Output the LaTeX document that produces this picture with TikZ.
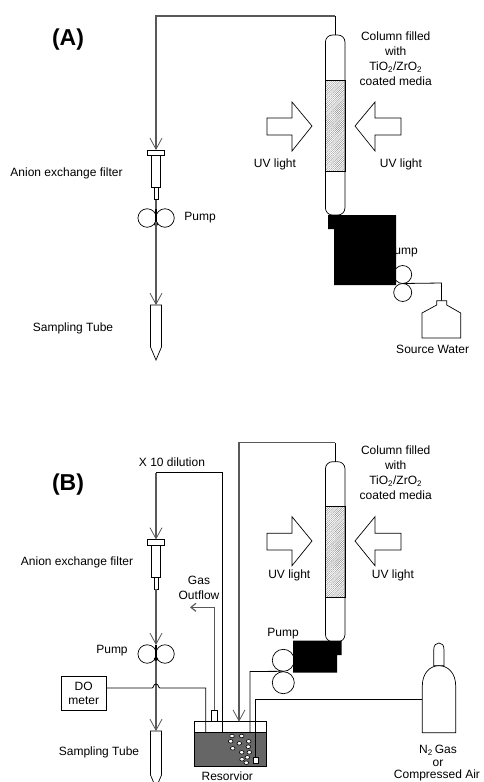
\documentclass[tikz,border=0pt]{standalone}
\usepackage{fontspec}
\setmainfont{Liberation Sans}
\usetikzlibrary{positioning,arrows.meta,patterns.meta}

\begin{document}
\begin{tikzpicture}[
  x=1pt, y=-1pt,
  label/.style={align=center, inner sep=0pt, font=\fontsize{12}{15}\selectfont},
  panel/.style={inner sep=0pt, font=\fontsize{23}{26}\selectfont\bfseries},
  part/.style={draw, fill=white, inner sep=0pt, outer sep=0pt, line width=0.7pt},
  column/.style={part, rounded corners=7pt, minimum width=19.5pt},
  media/.style={part, minimum width=19.5pt, fill=none,
    pattern={Lines[angle=45, distance=1.5pt, line width=0.3pt]}, pattern color=black!55},
  roller/.style={part, fill=none, circle},
  dot/.style={circle, fill=black, inner sep=0pt, outer sep=0pt, minimum size=4pt},
  vessel/.style={draw, line width=0.7pt, fill=white},
  uvarrow/.style={draw, line width=0.7pt, fill=white, line join=miter},
  pipe/.style={draw=black!65, line width=1.2pt},
  wire/.style={draw=black, line width=0.8pt},
  arr/.style={-{Straight Barb[length=11pt, width=12pt, line width=0.8pt]}, draw=black!65, line width=1.2pt},
  bubble/.style={draw, fill=white, line width=0.6pt}
]
\path[use as bounding box, clip] (0,0) rectangle (483,782);

% panel A
\node[panel] (panA) at (68,40) {(A)};
\node[column, minimum height=180pt] (colA) at (335.2,125) {};
\node[media, minimum height=91pt] (medA) at (335.2,125.5) {};
\node[label] (colTxtA) at (395.7,59) {Column filled\\with\\TiO\textsubscript{2}/ZrO\textsubscript{2}\\coated media};
\path[uvarrow] (267,118) -- (292,118) -- (292,102) -- (312,126) -- (292,151) -- (292,135) -- (267,135) -- cycle;
\path[uvarrow] (401,118) -- (375,118) -- (375,102) -- (355,126) -- (375,151) -- (375,135) -- (401,135) -- cycle;
\node[label] (uvLA) at (275,164) {UV light};
\node[label] (uvRA) at (401,164) {UV light};
\node[part, minimum width=17pt, minimum height=5.5pt, anchor=north] (flgA) at (156,150) {};
\node[part, minimum width=9.5pt, minimum height=32pt, below=0pt of flgA] (fltA) {};
\node[part, minimum width=4pt, minimum height=12pt, below=0pt of fltA] (tipA) {};
\node[label] (fltTxtA) at (66.5,173) {Anion exchange filter};
\node[roller, minimum size=18.5pt] (pLA) at (147.2,218) {};
\node[roller, minimum size=18.5pt] (pRA) at (165,218) {};
\node[dot] (dotA) at (156,224) {};
\node[label] (pmpA) at (200,218) {Pump};
\coordinate (tubeA) at (156,305);
\node[label] (tubTxtA) at (73,328) {Sampling Tube};
\path[vessel] (tubeA) -- (161.5,305) -- (161.5,347) -- (156,360) -- (150.5,347) -- (150.5,305) -- cycle;
\coordinate (topA) at (335.2,16);
\coordinate (turnA) at (156,16);
\draw[wire] (colA.north) -- (topA);
\draw[arr] (topA) -- (turnA) -- (flgA.north);
\draw[arr] (tipA.south) -- (tubeA);
\draw[draw=black, line width=1.4pt] (156,209) -- (dotA);
% pump and bottle
\node[label] (pmp2A) at (402,252) {Pump};
\fill (328,215) -- (396,215) -- (396,285) -- (334,285) -- (334,229) -- (328,229) -- cycle;
\node[roller, minimum size=18pt] (pTA) at (402.7,274.5) {};
\node[roller, minimum size=18pt] (pBA) at (402.7,292.5) {};
\coordinate (botA) at (441.5,300.7);
\path[vessel] (botA) -- (446.7,300.7) -- (446.7,305) -- (460.7,313) -- (460.7,338) -- (422,338) -- (422,313) -- (436.7,305) -- (436.7,300.7) -- cycle;
\coordinate (cornA) at (441.5,283);
\draw[wire] (pTA.south) -- (cornA) -- (botA);
\node[label] (srcA) at (432.7,349) {Source Water};

% panel B
\node[panel] (panB) at (68,485) {(B)};
\node[column, minimum height=180pt] (colB) at (335.2,551.7) {};
\node[media, minimum height=90.6pt] (medB) at (335.2,552) {};
\node[label] (colTxtB) at (395.7,472.5) {Column filled\\with\\TiO\textsubscript{2}/ZrO\textsubscript{2}\\coated media};
\path[uvarrow] (267,533.3) -- (292,533.3) -- (292,516.7) -- (312,541) -- (292,565.7) -- (292,550) -- (267,550) -- cycle;
\path[uvarrow] (401,533.3) -- (375,533.3) -- (375,516.7) -- (355,541) -- (375,565.7) -- (375,550) -- (401,550) -- cycle;
\node[label] (uvLB) at (289.3,575) {UV light};
\node[label] (uvRB) at (393,575) {UV light};
\node[part, minimum width=17pt, minimum height=5.5pt, anchor=north] (flgB) at (156,539.5) {};
\node[part, minimum width=9.5pt, minimum height=32pt, below=0pt of flgB] (fltB) {};
\node[part, minimum width=4pt, minimum height=12pt, below=0pt of fltB] (tipB) {};
\node[label] (fltTxtB) at (77,562) {Anion exchange filter};
\node[roller, minimum size=18.5pt] (pLB) at (147.2,654) {};
\node[roller, minimum size=18.5pt] (pRB) at (165,654) {};
\node[dot] (dotB) at (156,659) {};
\node[label] (pmpB) at (112,651) {Pump};
\coordinate (tubeB) at (156,731);
\node[label] (tubTxtB) at (99,752) {Sampling Tube};
\path[vessel] (tubeB) -- (161.5,731) -- (161.5,775) -- (156,788) -- (150.5,775) -- (150.5,731) -- cycle;
\node[label] (xten) at (172,462) {X 10 dilution};
\node[label] (gasTxt) at (199,587.5) {Gas\\Outflow};
% reservoir
\node[part, fill=none, minimum width=72pt, minimum height=44.3pt, anchor=north west] (resv) at (194.7,721.7) {};
\node[part, fill=black!60, minimum width=72pt, minimum height=34pt, anchor=north west] (liq) at (194.7,732) {};
\foreach \bx/\by in {232/736, 241.7/736, 230.7/741.3, 239.3/743.3, 248.7/741.3, 248.3/746.7,
    232.7/748.3, 241.7/752.3, 249.3/752.3, 247.3/757.3, 242/759.3, 246.3/762.7}
  \draw[bubble] (\bx,\by) ellipse (2.3pt and 1.8pt);
\node[part, minimum width=5.5pt, minimum height=5.8pt] (sprg) at (255.7,760.6) {};
\node[label] (resTxt) at (227.3,776.5) {Resorvior};
\node[part, minimum width=6pt, minimum height=11.7pt, anchor=south] (vent) at (214.3,721.7) {};
\node[part, minimum width=44.7pt, minimum height=33.3pt, align=center, font=\fontsize{12}{14}\selectfont] (doBox) at (83.7,693.3) {DO\\meter};
% connectors
\coordinate (topB) at (335.2,442.7);
\coordinate (turnB) at (239,442.7);
\coordinate (inB) at (239,721.7);
\draw[wire] (colB.north) -- (topB);
\draw[arr] (topB) -- (turnB) -- (inB);
\coordinate (retB) at (222.3,732);
\coordinate (retT) at (222.3,472.7);
\coordinate (retL) at (156,472.7);
\draw[wire] (retB) -- (retT) -- (retL);
\draw[arr] (retL) -- (flgB.north);
\draw[arr] (tipB.south) -- (156,645);
\draw[draw=black, line width=1.4pt] (156,645) -- (dotB);
\draw[arr] (dotB) -- (tubeB);
\coordinate (gasT) at (214.3,607.3);
\coordinate (gasE) at (190,607.3);
\draw[-{Straight Barb[length=5pt, width=8pt]}, pipe] (vent.north) -- (gasT) -- (gasE);
\coordinate (doC) at (205.7,688);
\draw[wire] (doBox.east |- doC) -- (152,688) .. controls (154,688) and (153,684) .. (156,684) .. controls (159,684) and (158,688) .. (160,688) -- (doC) -- (205.7,732);
\node[label] (pmpBtop) at (283,634) {Pump};
\fill (293,640.7) -- (341.7,640.7) -- (341.7,655) -- (337,655) -- (337,672.7) -- (293,672.7) -- cycle;
\node[roller, minimum size=22pt] (pTB) at (283.3,660.3) {};
\node[roller, minimum size=22pt] (pBB) at (283.3,682.7) {};
\coordinate (pipeC) at (250,671.5);
\draw[wire] (pTB.south) -- (pipeC) -- (250,732);
% gas cylinder
\path[vessel] (433.7,665.7) -- (433.7,650) .. controls (433.7,645) and (436,643) .. (439,643) .. controls (442,643) and (444,645) .. (444,650) -- (444,665.7) -- cycle;
\path[vessel] (422.3,732.7) -- (422.3,686) .. controls (422.3,673) and (430,665.7) .. (439,665.7) .. controls (448,665.7) and (455.7,673) .. (455.7,686) -- (455.7,732.7) -- cycle;
\coordinate (cylIn) at (422.3,699.3);
\coordinate (airC) at (255.7,699.3);
\draw[wire] (cylIn) -- (airC) -- (sprg.north);
\node[label] (gasN) at (438,750) {N\textsubscript{2}\,Gas};
\node[label] (gasOr) at (438,763.5) {or};
\node[label] (gasAir) at (437,775.5) {Compressed Air};
\end{tikzpicture}
\end{document}
